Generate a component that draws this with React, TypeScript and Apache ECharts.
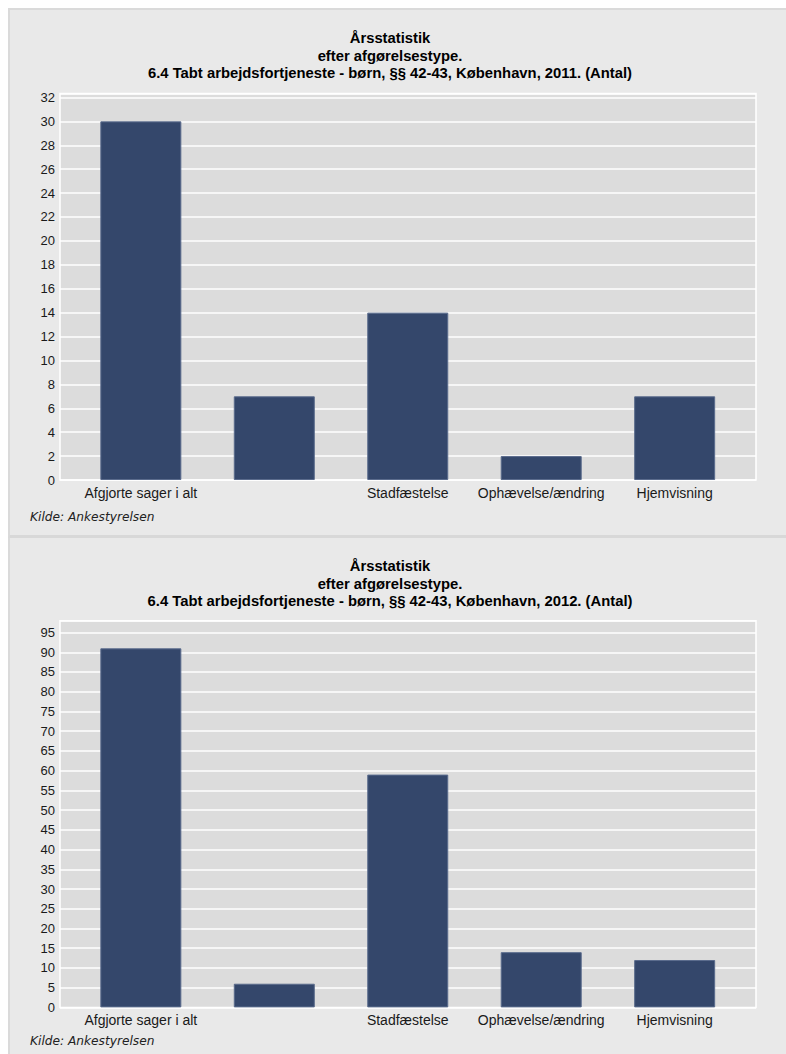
import React, { useEffect, useRef } from "react";
import * as echarts from "echarts";

// Decision types shown on the x axis (the second one carries no printed label)
const CATEGORIES = ["Afgjorte sager i alt", "", "Stadfæstelse", "Ophævelse/ændring", "Hjemvisning"];

// Number of decided cases per type
const VALUES_2011 = [30, 7, 14, 2, 7];
const VALUES_2012 = [91, 6, 59, 14, 12];

// Y axis settings per year
const Y_2011 = { max: 32.33, interval: 2 };
const Y_2012 = { max: 98, interval: 5 };

const TITLE_LINES_2011 = [
  "Årsstatistik",
  "efter afgørelsestype.",
  "6.4 Tabt arbejdsfortjeneste - børn, §§ 42-43, København, 2011. (Antal)",
];
const TITLE_LINES_2012 = [
  "Årsstatistik",
  "efter afgørelsestype.",
  "6.4 Tabt arbejdsfortjeneste - børn, §§ 42-43, København, 2012. (Antal)",
];

const SOURCE_TEXT = "Kilde: Ankestyrelsen";

const FONT = "'Liberation Sans', Arial, Helvetica, sans-serif";
const SOURCE_FONT = "'DejaVu Sans', Verdana, sans-serif";
const PLOT_BG = "#dcdcdc";
const BAR_COLOR = "#34476b";
const BAR_BORDER = "#5a6b8c";
const LABEL_COLOR = "#1a1a1a";

type Layout = {
  plotTop: number;
  plotBottom: number;
  sourceY: number;
};

function buildOption(
  titleLines: string[],
  values: number[],
  y: { max: number; interval: number },
  layout: Layout
): echarts.EChartsOption {
  const plotHeight = layout.plotBottom - layout.plotTop;
  const titleY = [28, 45.7, 63.3];
  return {
    animation: false,
    backgroundColor: "transparent",
    textStyle: { fontFamily: FONT },
    grid: [
      {
        // grey plotting area with white frame and gridlines
        left: 50,
        top: layout.plotTop,
        width: 696,
        height: plotHeight,
        show: true,
        backgroundColor: PLOT_BG,
        borderColor: "#ffffff",
        borderWidth: 1.5,
        containLabel: false,
      },
      {
        // inset band where the bars sit
        left: 64.1,
        top: layout.plotTop,
        width: 667.3,
        height: plotHeight,
        containLabel: false,
      },
    ],
    xAxis: [
      { gridIndex: 0, type: "category", data: CATEGORIES, show: false },
      {
        gridIndex: 1,
        type: "category",
        data: CATEGORIES,
        axisLine: { show: false },
        axisTick: { show: false },
        splitLine: { show: false },
        axisLabel: {
          interval: 0,
          margin: 6,
          fontSize: 14,
          color: LABEL_COLOR,
          fontFamily: FONT,
        },
      },
    ],
    yAxis: [
      {
        gridIndex: 0,
        type: "value",
        min: 0,
        max: y.max,
        interval: y.interval,
        axisLine: { show: false },
        axisTick: { show: false },
        splitLine: { show: true, lineStyle: { color: "#ffffff", width: 1.5 } },
        axisLabel: {
          margin: 5,
          fontSize: 13,
          color: LABEL_COLOR,
          fontFamily: FONT,
          formatter: (v: number) => (Math.abs(v % y.interval) < 1e-9 ? String(v) : ""),
        },
      },
      {
        gridIndex: 1,
        type: "value",
        min: 0,
        max: y.max,
        show: false,
        splitLine: { show: false },
      },
    ],
    series: [
      {
        type: "bar",
        xAxisIndex: 1,
        yAxisIndex: 1,
        data: values,
        barWidth: 81,
        itemStyle: { color: BAR_COLOR, borderColor: BAR_BORDER, borderWidth: 1 },
      },
    ],
    graphic: [
      ...titleLines.map((line, i) => ({
        type: "text" as const,
        x: 380,
        y: titleY[i],
        style: {
          text: line,
          textAlign: "center" as const,
          textVerticalAlign: "middle" as const,
          fontFamily: FONT,
          fontWeight: "bold" as const,
          fontSize: 14.8,
          fill: "#000000",
        },
      })),
      {
        type: "text" as const,
        x: 20,
        y: layout.sourceY,
        style: {
          text: SOURCE_TEXT,
          textAlign: "left" as const,
          textVerticalAlign: "middle" as const,
          fontFamily: SOURCE_FONT,
          fontStyle: "italic" as const,
          fontSize: 12.2,
          fill: "#222222",
        },
      },
    ],
  };
}

function BarPanel(props: {
  option: echarts.EChartsOption;
  left: number;
  top: number;
  width: number;
  height: number;
}) {
  const ref = useRef<HTMLDivElement>(null);
  useEffect(() => {
    if (!ref.current) return;
    const chart = echarts.init(ref.current, undefined, { renderer: "svg" });
    chart.setOption(props.option);
    return () => chart.dispose();
  }, [props.option]);
  return (
    <div
      ref={ref}
      style={{
        position: "absolute",
        left: props.left,
        top: props.top,
        width: props.width,
        height: props.height,
      }}
    />
  );
}

const option2011 = buildOption(TITLE_LINES_2011, VALUES_2011, Y_2011, {
  plotTop: 83.5,
  plotBottom: 470,
  sourceY: 506.7,
});
const option2012 = buildOption(TITLE_LINES_2012, VALUES_2012, Y_2012, {
  plotTop: 82.7,
  plotBottom: 469.4,
  sourceY: 502.7,
});

export default function App() {
  return (
    <div
      style={{
        position: "fixed",
        left: 0,
        top: 0,
        width: 786,
        height: 1054,
        overflow: "hidden",
        background: "#ffffff",
      }}
    >
      {/* first panel */}
      <div
        style={{
          position: "absolute",
          left: 8,
          top: 8,
          width: 778,
          height: 530,
          boxSizing: "border-box",
          background: "#e9e9e9",
          borderTop: "2px solid #dadada",
          borderLeft: "2px solid #dadada",
          borderBottom: "3px solid #d8d8d8",
        }}
      />
      {/* second panel */}
      <div
        style={{
          position: "absolute",
          left: 8,
          top: 538,
          width: 778,
          height: 516,
          boxSizing: "border-box",
          background: "#e9e9e9",
          borderLeft: "2px solid #dadada",
        }}
      />
      <BarPanel option={option2011} left={10} top={10} width={776} height={525} />
      <BarPanel option={option2012} left={10} top={538} width={776} height={516} />
    </div>
  );
}
